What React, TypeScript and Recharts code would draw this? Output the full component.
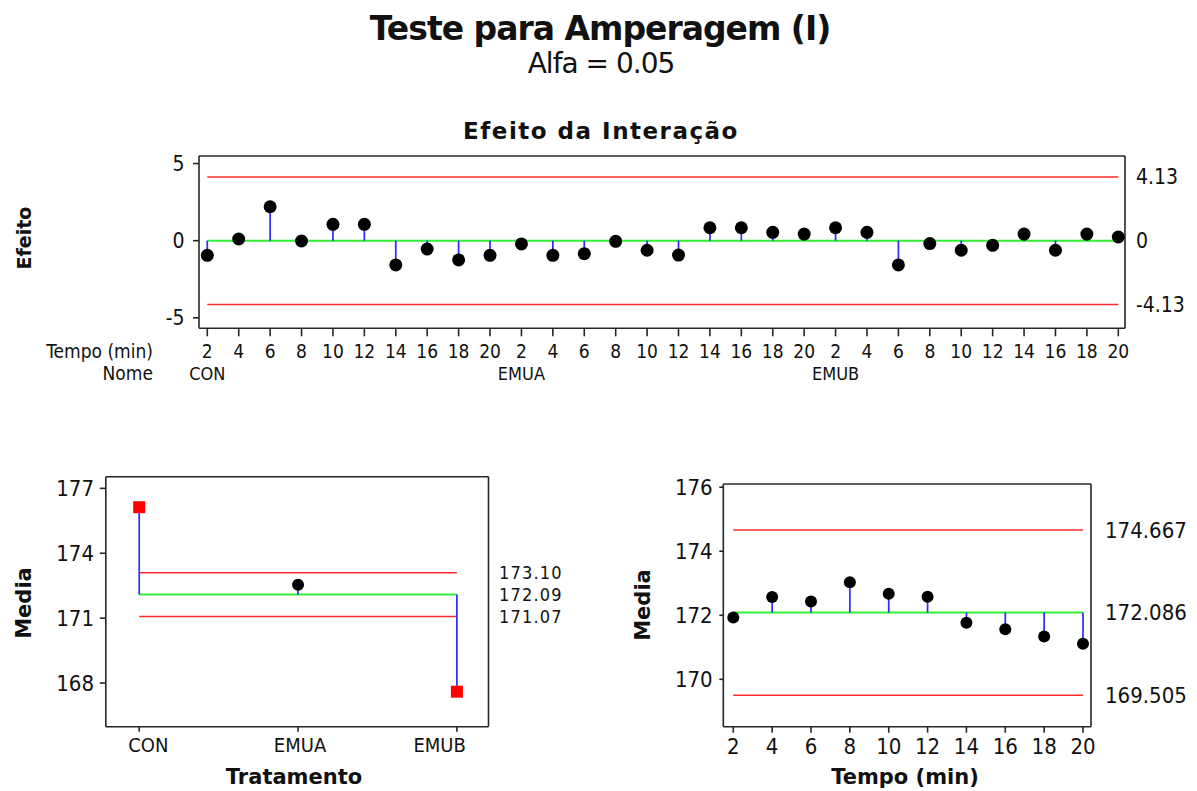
import React from "react";
import { LineChart, Line, XAxis, YAxis, ErrorBar } from "recharts";

// ---- data ----
const groups = ["CON", "EMUA", "EMUB"];
const times = [2, 4, 6, 8, 10, 12, 14, 16, 18, 20];

const interactionEffects = [
  -0.95, 0.11, 2.2, -0.02, 1.06, 1.06, -1.57, -0.54, -1.25, -0.95,
  -0.21, -0.95, -0.84, -0.04, -0.62, -0.93, 0.84, 0.84, 0.54, 0.43,
  0.84, 0.54, -1.57, -0.19, -0.62, -0.3, 0.43, -0.62, 0.43, 0.24,
];
const effectLimit = 4.13;
const effectTicks = [-5, 0, 5];

const treatmentMeans = [176.13, 172.54, 167.6];
const treatmentCenter = 172.09;
const treatmentUpper = 173.1;
const treatmentLower = 171.07;
const treatmentTicks = [168, 171, 174, 177];

const timeMeans = [171.93, 172.57, 172.43, 173.03, 172.67, 172.58, 171.77, 171.56, 171.34, 171.11];
const timeCenter = 172.086;
const timeUpper = 174.667;
const timeLower = 169.505;
const timeTicks = [170, 172, 174, 176];

// ---- styles ----
const ink = "#111";
const frame = { stroke: "#262626", strokeWidth: 1.6 };
const numFont = "'DejaVu Sans Condensed', 'DejaVu Sans', sans-serif";
const boldFont = "'DejaVu Sans', sans-serif";
const RED = "#ff2a2a";
const GREEN = "#33ee33";
const BLUE = "#2b2bff";

type Row = { key: string; value: number; stem: number[]; upper: number; center: number; lower: number };

function buildRows(keys: string[], values: number[], center: number, lower: number, upper: number): Row[] {
  return values.map((v, i) => ({
    key: keys[i],
    value: v,
    stem: v >= center ? [v - center, 0] : [0, center - v],
    upper,
    center,
    lower,
  }));
}

const effectRows = buildRows(
  interactionEffects.map((_, i) => `${groups[Math.floor(i / 10)]}-${times[i % 10]}`),
  interactionEffects, 0, -effectLimit, effectLimit
);
const treatmentRows = buildRows(groups, treatmentMeans, treatmentCenter, treatmentLower, treatmentUpper);
const timeRows = buildRows(times.map(String), timeMeans, timeCenter, timeLower, timeUpper);

const makeDot = (lower: number, upper: number, r: number) => (p: any) => {
  const { cx, cy, value, index } = p;
  if (value > upper || value < lower) {
    return <rect key={`d${index}`} x={cx - 6} y={cy - 6} width={12} height={12} fill="#ff0000" />;
  }
  return <circle key={`d${index}`} cx={cx} cy={cy} r={r} fill="#000" />;
};

const EffectTick = ({ x, y, index }: any) => (
  <g>
    <text x={x} y={y + 19.7} textAnchor="middle" fontSize={19} fontFamily={numFont} fill={ink}>
      {times[index % 10]}
    </text>
    {index % 10 === 0 && (
      <text x={x} y={y + 41.7} textAnchor="middle" fontSize={18} fontFamily={numFont} fill={ink}>
        {groups[index / 10]}
      </text>
    )}
  </g>
);

const TreatmentTick = ({ x, y, index, payload }: any) => {
  const last = groups.length - 1;
  const anchor = index === 0 ? "start" : index === last ? "end" : "middle";
  const dx = index === 0 ? -11 : index === last ? 9 : 2;
  return (
    <text x={x + dx} y={y + 18} textAnchor={anchor} fontSize={20} fontFamily={numFont} fill={ink}>
      {payload.value}
    </text>
  );
};

const TimeTick = ({ x, y, payload }: any) => (
  <text x={x} y={y + 19.3} textAnchor="middle" fontSize={22} fontFamily={numFont} fill={ink}>
    {payload.value}
  </text>
);

type PanelProps = {
  rows: Row[];
  width: number;
  height: number;
  top: number;
  leftW: number;
  rightW: number;
  xH: number;
  pad: { left: number; right: number };
  domain: [number, number];
  ticks: number[];
  rightTicks: number[];
  fmt: (v: number) => string;
  xTick: any;
  xTickSize: number;
  yTickSize: number;
  yMargin: number;
  rMargin: number;
  fontSize: number;
  rightFont: number;
  rightSpacing: number;
  dotR: number;
};

function AnomPanel(p: PanelProps) {
  const lower = p.rows[0].lower;
  const upper = p.rows[0].upper;
  return (
    <LineChart width={p.width} height={p.height} data={p.rows} margin={{ top: p.top - 1, right: 0, bottom: 0, left: 0 }}>
      <XAxis
        dataKey="key"
        scale="point"
        padding={p.pad}
        height={p.xH}
        interval={0}
        tick={p.xTick}
        tickSize={p.xTickSize}
        tickMargin={2}
        axisLine={frame}
        tickLine={frame}
      />
      <XAxis
        xAxisId="top"
        orientation="top"
        dataKey="key"
        scale="point"
        padding={p.pad}
        height={1}
        tick={false}
        tickLine={false}
        axisLine={frame}
      />
      <YAxis
        type="number"
        domain={p.domain}
        allowDataOverflow
        ticks={p.ticks}
        interval={0}
        width={p.leftW}
        tickSize={p.yTickSize}
        tickMargin={p.yMargin}
        axisLine={frame}
        tickLine={frame}
        tick={{ fontSize: p.fontSize, fontFamily: numFont, fill: ink }}
      />
      <YAxis
        yAxisId="r"
        orientation="right"
        type="number"
        domain={p.domain}
        allowDataOverflow
        ticks={p.rightTicks}
        interval={0}
        tickFormatter={p.fmt}
        width={p.rightW}
        tickSize={6}
        tickMargin={p.rMargin}
        axisLine={frame}
        tickLine={false}
        tick={{ fontSize: p.rightFont, letterSpacing: p.rightSpacing, fontFamily: numFont, fill: ink, textAnchor: "start" }}
      />
      <Line xAxisId="top" dataKey="upper" stroke={RED} strokeWidth={1.5} dot={false} activeDot={false} isAnimationActive={false} />
      <Line xAxisId="top" dataKey="lower" stroke={RED} strokeWidth={1.5} dot={false} activeDot={false} isAnimationActive={false} />
      <Line dataKey="center" stroke={GREEN} strokeWidth={2} dot={false} activeDot={false} isAnimationActive={false} />
      <Line
        dataKey="value"
        stroke="none"
        strokeWidth={0}
        dot={makeDot(lower, upper, p.dotR)}
        activeDot={false}
        isAnimationActive={false}
      >
        <ErrorBar dataKey="stem" width={0} stroke={BLUE} strokeWidth={1.7} direction="y" isAnimationActive={false} />
      </Line>
    </LineChart>
  );
}

const abs = (left: number, top: number): React.CSSProperties => ({ position: "absolute", left, top });

const Title = ({ text, cx, top, size, bold, ls }: any) => (
  <div
    style={{
      position: "absolute",
      left: cx - 400,
      top,
      width: 800,
      textAlign: "center",
      fontFamily: boldFont,
      fontWeight: bold ? "bold" : "normal",
      fontSize: size,
      lineHeight: `${size}px`,
      letterSpacing: ls,
      color: ink,
      whiteSpace: "nowrap",
    }}
  >
    {text}
  </div>
);

const VLabel = ({ text, cx, cy, size }: any) => (
  <div
    style={{
      position: "absolute",
      left: cx,
      top: cy,
      transform: "translate(-50%, -50%) rotate(-90deg)",
      fontFamily: boldFont,
      fontWeight: "bold",
      fontSize: size,
      lineHeight: `${size}px`,
      color: ink,
      whiteSpace: "nowrap",
    }}
  >
    {text}
  </div>
);

const RowLabel = ({ text, right, top }: any) => (
  <div
    style={{
      position: "absolute",
      left: right - 200,
      top,
      width: 200,
      textAlign: "right",
      fontFamily: numFont,
      fontSize: 19,
      lineHeight: "19px",
      color: ink,
      whiteSpace: "nowrap",
    }}
  >
    {text}
  </div>
);

export default function App() {
  return (
    <div style={{ position: "absolute", left: 0, top: 0, width: 1197, height: 791, background: "#fff", overflow: "hidden" }}>
      <Title text="Teste para Amperagem (I)" cx={600} top={12} size={33} bold ls={-1} />
      <Title text="Alfa = 0.05" cx={601} top={50} size={28} ls={-1} />
      <Title text="Efeito da Interação" cx={601} top={120} size={23} bold ls={1.5} />

      <div style={abs(0, 140)}>
        <AnomPanel
          rows={effectRows}
          width={1197}
          height={250}
          top={16}
          leftW={199}
          rightW={72}
          xH={61.7}
          pad={{ left: 8.3, right: 6.7 }}
          domain={[-5.68, 5.49]}
          ticks={effectTicks}
          rightTicks={[effectLimit, 0, -effectLimit]}
          fmt={(v) => (v === 0 ? "0" : v.toFixed(2))}
          xTick={EffectTick}
          xTickSize={8}
          yTickSize={6}
          yMargin={8.5}
          rMargin={5}
          fontSize={21}
          rightFont={21}
          rightSpacing={0}
          dotR={6.5}
        />
      </div>
      <VLabel text="Efeito" cx={24} cy={238} size={19} />
      <RowLabel text="Tempo (min)" right={153} top={342} />
      <RowLabel text="Nome" right={153} top={364} />

      <div style={abs(0, 460)}>
        <AnomPanel
          rows={treatmentRows}
          width={600}
          height={331}
          top={16.7}
          leftW={105.8}
          rightW={111.5}
          xH={64.3}
          pad={{ left: 33.4, right: 31.6 }}
          domain={[165.98, 177.54]}
          ticks={treatmentTicks}
          rightTicks={[treatmentUpper, treatmentCenter, treatmentLower]}
          fmt={(v) => v.toFixed(2)}
          xTick={TreatmentTick}
          xTickSize={5}
          yTickSize={6}
          yMargin={5.8}
          rMargin={4.5}
          fontSize={22}
          rightFont={18}
          rightSpacing={1.2}
          dotR={6}
        />
      </div>
      <VLabel text="Media" cx={24} cy={603} size={21} />
      <Title text="Tratamento" cx={294} top={767} size={21} bold />

      <div style={abs(600, 460)}>
        <AnomPanel
          rows={timeRows}
          width={597}
          height={331}
          top={24}
          leftW={123.3}
          rightW={106}
          xH={64.3}
          pad={{ left: 10, right: 8 }}
          domain={[168.52, 176.1]}
          ticks={timeTicks}
          rightTicks={[timeUpper, timeCenter, timeLower]}
          fmt={(v) => v.toFixed(3)}
          xTick={TimeTick}
          xTickSize={6}
          yTickSize={4}
          yMargin={6.6}
          rMargin={8}
          fontSize={22}
          rightFont={22}
          rightSpacing={0}
          dotR={6}
        />
      </div>
      <VLabel text="Media" cx={643} cy={605} size={21} />
      <Title text="Tempo (min)" cx={905} top={767} size={21} bold />
    </div>
  );
}
